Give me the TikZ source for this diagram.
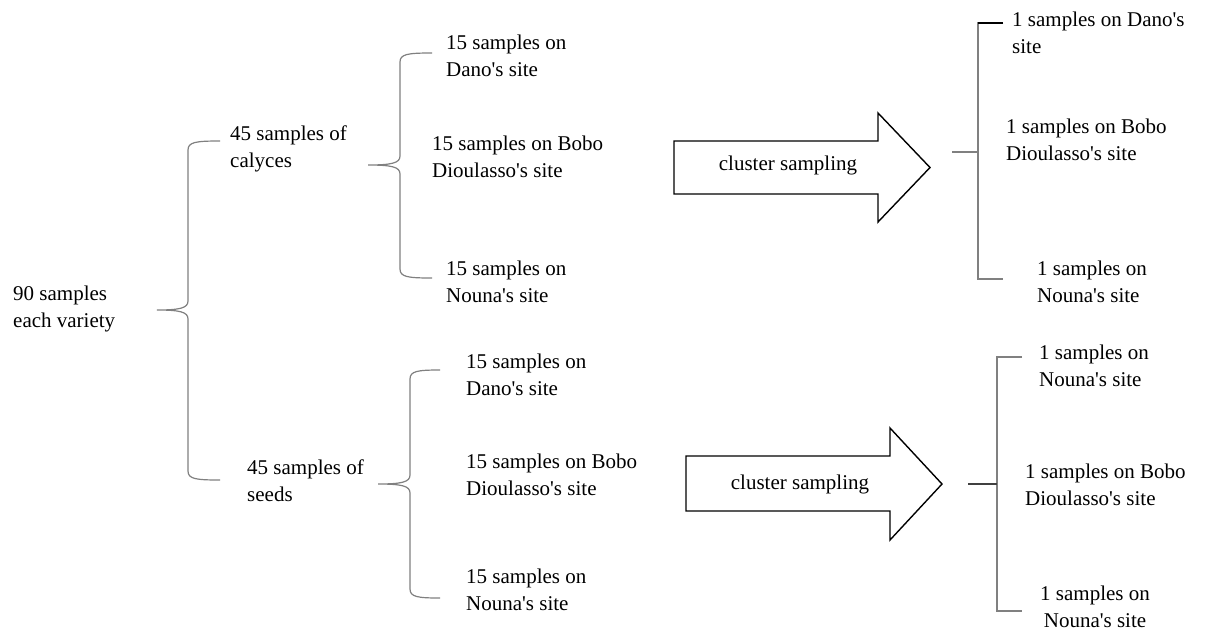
\documentclass[tikz,border=0pt]{standalone}
\usepackage{fontspec}
\setmainfont{Liberation Serif}
\newcommand\sq{\textquotesingle}
\tikzset{
  lbl/.style={anchor=west, align=left, inner sep=0pt, font=\fontsize{21}{27}\selectfont},
  bracestyle/.style={draw=black!50, line width=1.2pt},
  arrowbox/.style={draw=black, line width=1.4pt, line join=miter, fill=white},
}
% #1 xv, #2 ytop, #3 ymid, #4 ybot, #5 xend, #6 xtip
\newcommand\mybrace[6]{%
  \draw[bracestyle] (#5,#2) .. controls (#1+8,#2) and (#1,#2+1) .. (#1,#2+9)
    -- (#1,#3-9) .. controls (#1,#3-2) and (#1-8,#3) .. (#6,#3)
    .. controls (#1-8,#3) and (#1,#3+2) .. (#1,#3+9)
    -- (#1,#4-9) .. controls (#1,#4-1) and (#1+8,#4) .. (#5,#4);}
\begin{document}
\begin{tikzpicture}[x=1pt,y=-1pt]
\useasboundingbox (0,0) rectangle (1206,630);
\fill[white] (0,0) rectangle (1206,630);

% text nodes
\node[lbl] (root) at (13,309) {90 samples\\each variety};
\node[lbl] (cal) at (230,148.5) {45 samples of\\calyces};
\node[lbl] (seed) at (247,481) {45 samples of\\seeds};
\node[lbl] (td) at (446,55.5) {15 samples on\\Dano\sq s site};
\node[lbl] (tb) at (432,156.5) {15 samples on Bobo\\Dioulasso\sq s site};
\node[lbl] (tn) at (446,281.5) {15 samples on\\Nouna\sq s site};
\node[lbl] (bd) at (466,375) {15 samples on\\Dano\sq s site};
\node[lbl] (bb) at (466,475) {15 samples on Bobo\\Dioulasso\sq s site};
\node[lbl] (bn) at (466,590) {15 samples on\\Nouna\sq s site};
\node[lbl] (rtd) at (1012,32.5) {1 samples on Dano\sq s\\site};
\node[lbl] (rtb) at (1006,140) {1 samples on Bobo\\Dioulasso\sq s site};
\node[lbl] (rtn) at (1037,281.5) {1 samples on\\Nouna\sq s site};
\node[lbl] (rbn) at (1039,365.5) {1 samples on\\Nouna\sq s site};
\node[lbl] (rbb) at (1025,485) {1 samples on Bobo\\Dioulasso\sq s site};
\node[lbl, align=center] (rbl) at (1040,607) {1 samples on\\Nouna\sq s site};

% braces
\mybrace{188}{141}{310}{480}{220}{157}
\mybrace{400}{53}{165}{278}{432}{368}
\mybrace{410}{370}{484}{598}{440}{378}

% block arrows
\draw[arrowbox] (674,141) -- (878,141) -- (878,113) -- (930,167.5) -- (878,222) -- (878,194) -- (674,194) -- cycle;
\node[lbl, anchor=center] (a1) at (788,165) {cluster sampling};
\draw[arrowbox] (686,456) -- (890,456) -- (890,428) -- (942,484) -- (890,540) -- (890,511) -- (686,511) -- cycle;
\node[lbl, anchor=center] (a2) at (800,484) {cluster sampling};

% right brackets
\coordinate (r1t) at (1003,23);
\coordinate (r1b) at (1003,279);
\coordinate (r1m) at (952,152);
\draw[bracestyle] (r1t) -- (978,23) -- (978,279) -- (r1b);
\draw[bracestyle] (r1m) -- (978,152);
\draw[black, line width=1.2pt] (r1t) -- (978,23);
\coordinate (r2t) at (1022,357);
\coordinate (r2b) at (1022,611);
\coordinate (r2m) at (968,484);
\draw[bracestyle] (r2t) -- (997,357) -- (997,611) -- (r2b);
\draw[bracestyle, draw=black!75] (r2m) -- (997,484);
\end{tikzpicture}
\end{document}
